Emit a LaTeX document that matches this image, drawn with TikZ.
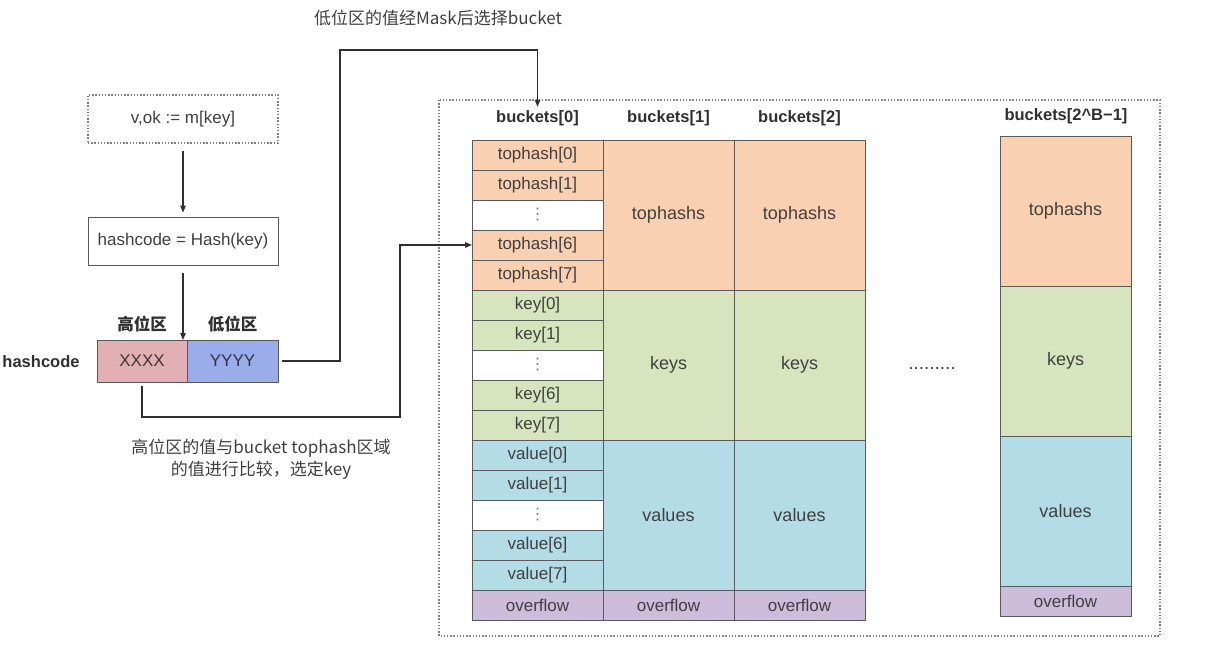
\documentclass[tikz,border=0pt]{standalone}
\usepackage{fontspec}
\setmainfont{Liberation Sans}
\newfontfamily\cjk{Noto Sans CJK SC}
\newfontfamily\sym{DejaVu Sans}
\usetikzlibrary{arrows.meta, positioning}
\definecolor{thfill}{HTML}{F9D0B2}
\definecolor{keyfill}{HTML}{D6E5BE}
\definecolor{valfill}{HTML}{B3DCE6}
\definecolor{ovfill}{HTML}{CDBCDA}
\definecolor{xxfill}{HTML}{E0B0B5}
\definecolor{yyfill}{HTML}{9BACEA}
\definecolor{edgec}{HTML}{5A5A5A}
\definecolor{txtc}{HTML}{404040}
\definecolor{linec}{HTML}{303030}

\begin{document}
\begin{tikzpicture}[x=1pt, y=-1pt, font=\fontsize{17}{20}\selectfont, text=txtc,
        cell/.style={draw=edgec, line width=0.9pt, inner sep=0pt, outer sep=0pt, minimum width=131pt, minimum height=30pt, anchor=north west},
        big/.style={cell, minimum height=150pt, font=\fontsize{18}{20}\selectfont},
        head/.style={font=\fontsize{16.5}{20}\selectfont\bfseries, text=linec},
        box/.style={draw=edgec, line width=0.9pt, minimum width=190pt, minimum height=48pt},
        note/.style={font=\fontsize{17}{22}\selectfont\cjk, align=center},
        gap/.style={cell, fill=white, text=gray, font=\fontsize{16}{18}\selectfont\sym},
        arr/.style={draw=linec, line width=1.2pt, -{Triangle[length=7pt, width=5.5pt]}},
        frame/.style={draw=gray, line width=1.4pt, dash pattern=on 1.4pt off 1.8pt}]
    \useasboundingbox (0,0) rectangle (1218,652);
    \draw[frame] (439,100) rectangle (1160,636);
    \node[note] (mask) at (438,18) {低位区的值经Mask后选择bucket};
    \node[box, frame] (q) at (183,119) {v,ok := m[key]};
    \node[box] (h) at (183,241) {hashcode = Hash(key)};
    \node[cell, anchor=center, minimum width=90pt, minimum height=42pt, fill=xxfill, text=xxfill!30!black] (xx) at (142,361) {XXXX};
    \node[cell, anchor=west, minimum width=91pt, minimum height=42pt, fill=yyfill, text=yyfill!30!black, right=0pt of xx] (yy) {YYYY};
    \node[head, font=\fontsize{16.5}{20}\selectfont\cjk\bfseries, above=4pt of xx] (hi) {高位区};
    \node[head, font=\fontsize{16.5}{20}\selectfont\cjk\bfseries, above=4pt of yy] (lo) {低位区};
    \node[head] (hc) at (41,362) {hashcode};
    \node[note] (cmp) at (261,459) {高位区的值与bucket tophash区域\\的值进行比较，选定key};
    \foreach \grp/\fc/\y in {tophash/thfill/140, key/keyfill/290, value/valfill/440}{
        \node[cell, fill=\fc] (\grp0) at (472,\y) {\grp[0]};
        \node[cell, fill=\fc] (\grp1) at (472,\y+30) {\grp[1]};
        \node[gap] (\grp-d) at (472,\y+60) {⋮};
        \node[cell, fill=\fc] (\grp6) at (472,\y+90) {\grp[6]};
        \node[cell, fill=\fc] (\grp7) at (472,\y+120) {\grp[7]};
    }
    \node[cell, fill=ovfill] (ov0) at (472,590) {overflow};
    \node[head] (b0) at (537.5,118) {buckets[0]};
    \foreach \c/\x in {1/603, 2/734}{
        \node[big, fill=thfill] (ths\c) at (\x,140) {tophashs};
        \node[big, fill=keyfill] (kys\c) at (\x,290) {keys};
        \node[big, fill=valfill] (vls\c) at (\x,440) {values};
        \node[cell, fill=ovfill] (ov\c) at (\x,590) {overflow};
        \node[head] (b\c) at (\x+65.5,118) {buckets[\c]};
    }
    \node[big, fill=thfill] (thsn) at (1000,136) {tophashs};
    \node[big, fill=keyfill] (kysn) at (1000,286) {keys};
    \node[big, fill=valfill] (vlsn) at (1000,436) {values};
    \node[cell, fill=ovfill] (ovn) at (1000,586) {overflow};
    \node[head] (bn) at (1066,116) {buckets[2\textasciicircum B−1]};
    \node[font=\fontsize{19}{20}\selectfont] (more) at (932,368) {.........};
    \coordinate (hx) at (h.south |- xx.north);
    \coordinate (m1) at (340,50);
    \coordinate (m2) at (400,417);
    \draw[arr, shorten <=7pt, shorten >=4pt] (q) -- (h);
    \draw[arr, shorten <=8pt] (h.south) -- (hx);
    \draw[arr, shorten <=4pt] (yy.east) -| (m1) -| (b0.north);
    \draw[arr, shorten <=4pt] (xx.south) |- (m2) |- (tophash6.west);
\end{tikzpicture}
\end{document}
